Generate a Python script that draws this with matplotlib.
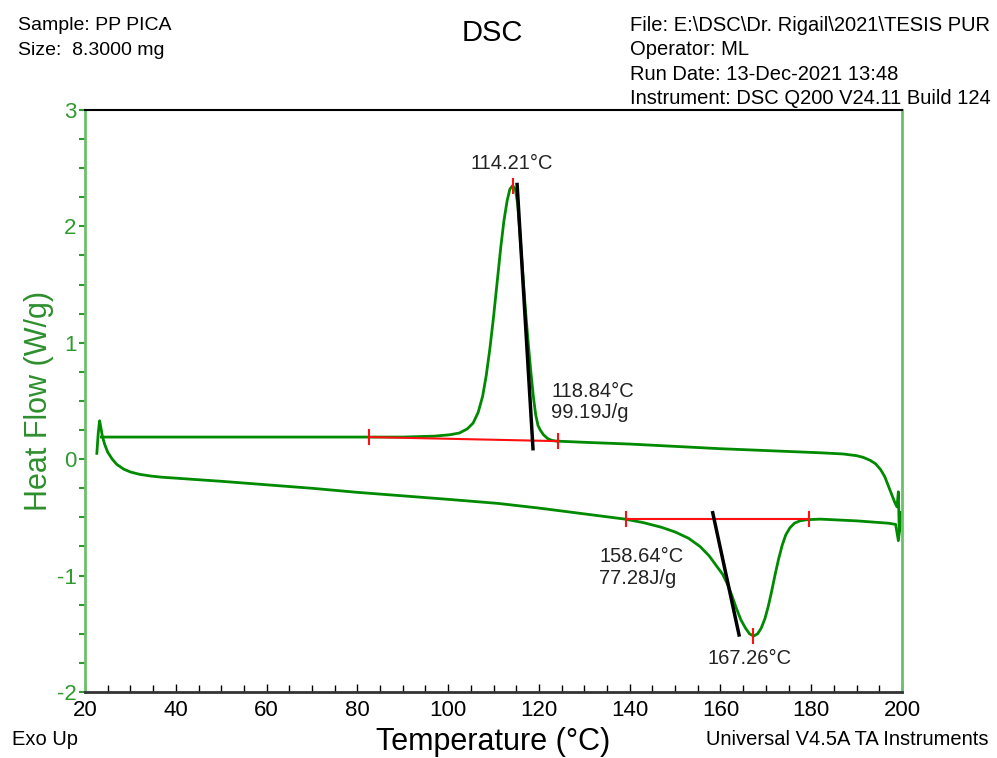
import matplotlib.pyplot as plt
import numpy as np

plt.rcParams["font.family"] = ["Liberation Sans", "DejaVu Sans"]
plt.rcParams["axes.unicode_minus"] = False

# calentamiento (curva de abajo, fusion)
t_heat = [22.6, 22.9, 23.2, 23.5, 23.8, 24.3, 25.0, 26.0, 27.0, 28.5, 30.0, 32.0,
          34.5, 37.0, 40, 50, 60, 70, 80, 90, 100, 111, 120, 125, 130, 135,
          139, 143, 147, 150, 153, 155.5, 157.5, 159, 160.5, 161.5, 162.5, 163.5,
          164.5, 165.5, 166.4, 167.3, 168.2, 169, 169.8, 170.5, 171.2, 172,
          172.8, 173.6, 174.4, 175.3, 176.3, 177.5, 179, 182, 190, 197, 198.6,
          199.2, 199.5, 199.7]
hf_heat = [0.05, 0.22, 0.33, 0.27, 0.20, 0.13, 0.06, 0.0, -0.045, -0.085, -0.11,
           -0.13, -0.145, -0.155, -0.163, -0.19, -0.22, -0.25, -0.285, -0.315,
           -0.345, -0.38, -0.42, -0.445, -0.47, -0.495,
           -0.515, -0.545, -0.585, -0.625, -0.68, -0.75, -0.83, -0.91, -0.99,
           -1.07, -1.17, -1.28, -1.38, -1.45, -1.50, -1.52, -1.50, -1.45, -1.37,
           -1.27, -1.15, -1.00, -0.86, -0.74, -0.65, -0.59, -0.55, -0.53, -0.52,
           -0.515, -0.53, -0.55, -0.56, -0.70, -0.60, -0.46]

# enfriamiento (curva de arriba, cristalizacion)
t_cool = [199.7, 199.4, 199.2, 198.9, 198.4, 197.8, 197.0, 196.2, 195.3, 194.2,
          193, 191.5, 190, 187, 182, 160, 140, 130, 124, 123, 122, 121, 120.3,
          119.8, 119.3, 118.8, 118.2, 117.6, 117.0, 116.4, 115.8, 115.3, 114.8,
          114.2, 113.6, 113.0, 112.3, 111.6, 110.8, 110.0, 109.2, 108.4, 107.6,
          106.6, 105.5, 104.2, 102.5, 100.4, 97, 90, 80, 60, 40, 25, 23.6]
hf_cool = [-0.46, -0.62, -0.28, -0.41, -0.37, -0.31, -0.23, -0.15, -0.09, -0.04,
           -0.01, 0.015, 0.03, 0.045, 0.055, 0.09, 0.13, 0.145, 0.155, 0.16, 0.175,
           0.21, 0.25, 0.29, 0.38, 0.53, 0.76, 1.02, 1.30, 1.62, 1.95, 2.20, 2.32,
           2.35, 2.32, 2.22, 2.05, 1.82, 1.52, 1.22, 0.95, 0.72, 0.54, 0.40, 0.31,
           0.26, 0.225, 0.21, 0.198, 0.19, 0.19, 0.19, 0.19, 0.19, 0.19]

# integraciones
base_cris_t = [82.5, 124.3]
base_cris_hf = [0.19, 0.155]
tang_cris_t = [115.2, 118.7]
tang_cris_hf = [2.36, 0.09]
pico_cris = (114.21, 2.35)

base_fus_t = [139.2, 179.6]
base_fus_hf = [-0.515, -0.515]
tang_fus_t = [158.3, 164.1]
tang_fus_hf = [-0.46, -1.51]
pico_fus = (167.26, -1.52)

verde = "#008a00"
verde_eje = "#6cc06c"

fig = plt.figure(figsize=(9.97, 7.58), dpi=100)
ax = fig.add_axes([0.0853, 0.0871, 0.8194, 0.7678])

ax.plot(t_heat, hf_heat, color=verde, lw=2)
ax.plot(t_cool, hf_cool, color=verde, lw=2)

rojo = "#ff1010"
ax.plot(base_cris_t, base_cris_hf, color=rojo, lw=1.5)
ax.plot(base_fus_t, base_fus_hf, color=rojo, lw=1.5)
for tx, hy in zip(base_cris_t + base_fus_t, base_cris_hf + base_fus_hf):
    ax.plot([tx, tx], [hy - 0.06, hy + 0.06], color=rojo, lw=1.5)
for tx, hy in [pico_cris, pico_fus]:
    ax.plot([tx, tx], [hy - 0.06, hy + 0.06], color=rojo, lw=1.5)

ax.plot(tang_cris_t, tang_cris_hf, color="black", lw=2.5)
ax.plot(tang_fus_t, tang_fus_hf, color="black", lw=2.5)

txt = dict(fontsize=14.5, color="#222222")
ax.text(114.0, 2.54, "114.21°C", ha="center", va="center", **txt)
ax.text(122.7, 0.49, "118.84°C\n99.19J/g", ha="left", va="center", linespacing=1.15, **txt)
ax.text(133.3, -0.93, "158.64°C\n77.28J/g", ha="left", va="center", linespacing=1.15, **txt)
ax.text(166.5, -1.71, "167.26°C", ha="center", va="center", **txt)

ax.set_xlim(20, 200)
ax.set_ylim(-2, 3)
ax.set_xticks(np.arange(20, 201, 20))
ax.set_xticks(np.arange(20, 201, 5), minor=True)
ax.set_yticks(np.arange(-2, 3.1, 1))
ax.set_yticks(np.arange(-2, 3.01, 0.25), minor=True)
ax.tick_params(axis="x", which="both", direction="in", top=False, labelsize=16,
               colors="black", pad=6)
ax.tick_params(axis="x", which="major", length=6, width=1)
ax.tick_params(axis="x", which="minor", length=5, width=1)
ax.tick_params(axis="y", which="both", direction="out", right=False, length=4,
               width=1.5, color="#2f9a2f", labelcolor="#2f9a2f", labelsize=16, pad=2)

for lado in ["left", "right"]:
    ax.spines[lado].set_color(verde_eje)
    ax.spines[lado].set_linewidth(2)
ax.spines["top"].set_color("black")
ax.spines["top"].set_linewidth(1.5)
ax.spines["bottom"].set_color("#333333")
ax.spines["bottom"].set_linewidth(2)

ax.set_xlabel("Temperature (°C)", fontsize=22, labelpad=4)
ax.set_ylabel("Heat Flow (W/g)", fontsize=22, color="#2e8f2e", labelpad=2)

# encabezado
fig.text(0.018, 0.967, "Sample: PP PICA", fontsize=14, va="center")
fig.text(0.018, 0.934, "Size:  8.3000 mg", fontsize=14, va="center")
fig.text(0.494, 0.957, "DSC", fontsize=21, ha="center", va="center")
info = ["File: E:\\DSC\\Dr. Rigail\\2021\\TESIS PUR",
        "Operator: ML",
        "Run Date: 13-Dec-2021 13:48",
        "Instrument: DSC Q200 V24.11 Build 124"]
for i, linea in enumerate(info):
    fig.text(0.632, 0.967 - i * 0.0325, linea, fontsize=14.5, va="center")
fig.text(0.012, 0.025, "Exo Up", fontsize=14.5, va="center")
fig.text(0.991, 0.025, "Universal V4.5A TA Instruments", fontsize=14.5, ha="right", va="center")

fig.savefig("out.png", dpi=100)
